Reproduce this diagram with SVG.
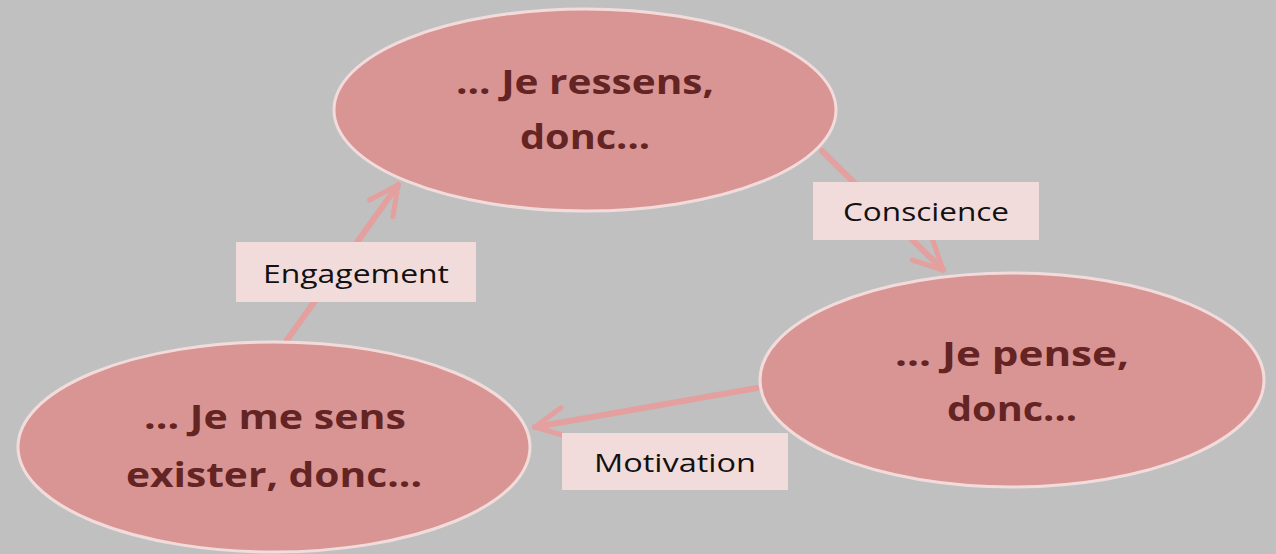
<svg xmlns="http://www.w3.org/2000/svg" width="1276" height="554" viewBox="0 0 1276 554">
<style>
.node ellipse{fill:#d99594;stroke:#f2dcdb;stroke-width:3}
.node text{font-family:"Open Sans","Liberation Sans",sans-serif;font-weight:bold;font-size:34px;fill:#632423;text-anchor:middle}
.conn line{stroke:#e3a09f;stroke-width:6;stroke-linecap:round}
.lbl rect{fill:#f2dcdb}
.lbl text{font-family:"Open Sans","Liberation Sans",sans-serif;font-size:25px;fill:#111;text-anchor:middle}
</style>
<defs>
<marker id="ah" viewBox="0 0 10 10" refX="9" refY="5" markerWidth="6" markerHeight="6" orient="auto" markerUnits="strokeWidth">
<polyline points="1,1 9,5 1,9" fill="none" stroke="#e3a09f" stroke-width="1.4" stroke-linecap="round" stroke-linejoin="round"/>
</marker>
</defs>
<rect width="1276" height="554" fill="#c0c0c0"/>
<g class="conn">
<line x1="822" y1="151" x2="943" y2="270" marker-end="url(#ah)"/>
<line x1="287" y1="340" x2="398" y2="185" marker-end="url(#ah)"/>
<line x1="757" y1="388" x2="535" y2="427" marker-end="url(#ah)"/>
</g>
<g id="n1" class="node">
<ellipse cx="585" cy="110" rx="251" ry="101"/>
<text x="585" y="94" textLength="258" lengthAdjust="spacingAndGlyphs">... Je ressens,</text>
<text x="585" y="149" textLength="130" lengthAdjust="spacingAndGlyphs">donc...</text>
</g>
<g id="n2" class="node">
<ellipse cx="1012" cy="380" rx="252" ry="107"/>
<text x="1012" y="366" textLength="234" lengthAdjust="spacingAndGlyphs">... Je pense,</text>
<text x="1012" y="421" textLength="130" lengthAdjust="spacingAndGlyphs">donc...</text>
</g>
<g id="n3" class="node">
<ellipse cx="274" cy="447" rx="256" ry="105"/>
<text x="275" y="429" textLength="262" lengthAdjust="spacingAndGlyphs">... Je me sens</text>
<text x="274" y="487" textLength="296" lengthAdjust="spacingAndGlyphs">exister, donc...</text>
</g>
<g id="l1" class="lbl">
<rect x="813" y="182" width="226" height="58"/>
<text x="926" y="221" textLength="166" lengthAdjust="spacingAndGlyphs">Conscience</text>
</g>
<g id="l2" class="lbl">
<rect x="236" y="242" width="240" height="60"/>
<text x="356" y="283" textLength="186" lengthAdjust="spacingAndGlyphs">Engagement</text>
</g>
<g id="l3" class="lbl">
<rect x="562" y="433" width="226" height="57"/>
<text x="675" y="472" textLength="162" lengthAdjust="spacingAndGlyphs">Motivation</text>
</g>
</svg>
